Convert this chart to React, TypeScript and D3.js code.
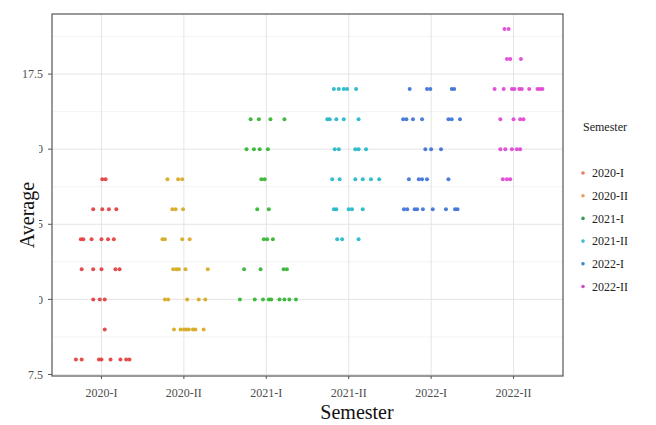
import * as d3 from 'd3';

// Semester categories and colours
const SEMESTERS = ['2020-I', '2020-II', '2021-I', '2021-II', '2022-I', '2022-II'];
const POINT_COLORS = ['#e2393b', '#d6a71e', '#2eb22e', '#1eb6c6', '#3a6fd6', '#e040d4'];
const LEGEND_COLORS = ['#ee7a66', '#e8a060', '#3a9a52', '#3cbcd0', '#3a8ad2', '#d24ac8'];

// Each row: [average, horizontal jitter offsets (in category widths)]
type Row = [number, number[]];

const S2020_I: Row[] = [
  [14, [0.01, 0.05]],
  [13, [-0.10, 0.01, 0.09, 0.18]],
  [12, [-0.25, -0.22, -0.12, 0.0, 0.08, 0.15]],
  [11, [-0.24, -0.10, 0.0, 0.17, 0.22]],
  [10, [-0.10, -0.02, 0.04]],
  [9, [0.04]],
  [8, [-0.31, -0.24, -0.03, 0.0, 0.11, 0.23, 0.30, 0.34]],
];
const S2020_II: Row[] = [
  [14, [-0.20, -0.07, -0.02]],
  [13, [-0.14, -0.10, -0.01]],
  [12, [-0.26, -0.23, -0.02, 0.07]],
  [11, [-0.13, -0.09, -0.06, 0.02, 0.29]],
  [10, [-0.23, -0.19, 0.04, 0.18, 0.26]],
  [9, [-0.12, -0.04, 0.0, 0.03, 0.06, 0.11, 0.14, 0.24]],
];
const S2021_I: Row[] = [
  [16, [-0.19, -0.09, 0.05, 0.22]],
  [15, [-0.24, -0.15, -0.08, 0.02]],
  [14, [-0.06, -0.02]],
  [13, [-0.11, 0.03]],
  [12, [-0.03, 0.01, 0.08]],
  [11, [-0.27, -0.07, 0.21, 0.25]],
  [10, [-0.32, -0.14, -0.04, 0.03, 0.06, 0.16, 0.22, 0.28, 0.36]],
];
const S2021_II: Row[] = [
  [17, [-0.18, -0.12, -0.06, -0.02, 0.09]],
  [16, [-0.26, -0.23, -0.15, -0.06, 0.12]],
  [15, [-0.17, -0.12, 0.08, 0.12, 0.21]],
  [14, [-0.20, -0.11, 0.08, 0.17, 0.27, 0.37]],
  [13, [-0.18, -0.15, 0.0, 0.04, 0.17]],
  [12, [-0.14, -0.08, 0.12]],
];
const S2022_I: Row[] = [
  [17, [-0.26, -0.05, -0.01, 0.25, 0.28]],
  [16, [-0.34, -0.30, -0.22, -0.11, 0.21, 0.25, 0.35]],
  [15, [-0.07, 0.0, 0.12]],
  [14, [-0.27, -0.15, -0.11, -0.05, 0.21]],
  [13, [-0.33, -0.29, -0.20, -0.17, -0.10, 0.02, 0.18, 0.29, 0.32]],
];
const S2022_II: Row[] = [
  [19, [-0.11, -0.06]],
  [18, [-0.08, -0.04, 0.09]],
  [17, [-0.23, -0.12, -0.02, 0.01, 0.07, 0.10, 0.19, 0.29, 0.32, 0.35]],
  [16, [-0.16, 0.0, 0.08, 0.12]],
  [15, [-0.16, -0.10, -0.02, 0.04, 0.08]],
  [14, [-0.13, -0.08, -0.04]],
];
const SERIES = [S2020_I, S2020_II, S2021_I, S2021_II, S2022_I, S2022_II];

const Y_TICKS = [7.5, 10, 12.5, 15, 17.5];
const Y_MINOR = [8.75, 11.25, 13.75, 16.25, 18.75];

const W = 656;
const H = 425;
const panel = { left: 52, right: 563, top: 14, bottom: 376 };
const serif = '"Liberation Serif", "DejaVu Serif", serif';

export default function App() {
  // discrete x with ggplot-like 0.6 expansion on each side
  const x = d3.scaleLinear()
    .domain([-0.6, SEMESTERS.length - 1 + 0.6])
    .range([panel.left, panel.right]);
  const y = d3.scaleLinear()
    .domain([7.45, 19.5])
    .range([panel.bottom, panel.top]);

  const points = SERIES.flatMap((rows, i) =>
    rows.flatMap(([v, jit]) => jit.map((j) => ({ i, v, j })))
  );

  const legendTop = 127;
  const legendStep = 22.7;

  return (
    <svg
      width={W}
      height={H}
      style={{ position: 'absolute', left: 0, top: 0, background: '#fff' }}
    >
      {/* panel background + grid */}
      <rect x={panel.left} y={panel.top} width={panel.right - panel.left}
        height={panel.bottom - panel.top} fill="#fff" />
      {Y_MINOR.map((t) => (
        <line key={'mn' + t} x1={panel.left} x2={panel.right} y1={y(t)} y2={y(t)}
          stroke="#f0f0f0" strokeWidth={0.8} />
      ))}
      {Y_TICKS.map((t) => (
        <line key={'mj' + t} x1={panel.left} x2={panel.right} y1={y(t)} y2={y(t)}
          stroke="#e4e4e4" strokeWidth={1} />
      ))}
      {SEMESTERS.map((s, i) => (
        <line key={'vx' + s} x1={x(i)} x2={x(i)} y1={panel.top} y2={panel.bottom}
          stroke="#e4e4e4" strokeWidth={1} />
      ))}

      {/* points */}
      {points.map((p, k) => (
        <circle key={k} cx={x(p.i + p.j)} cy={y(p.v)} r={2}
          fill={POINT_COLORS[p.i]} fillOpacity={0.9} />
      ))}

      {/* panel border */}
      <rect x={panel.left} y={panel.top} width={panel.right - panel.left}
        height={panel.bottom - panel.top} fill="none" stroke="#555" strokeWidth={1.2} />

      {/* y axis */}
      {Y_TICKS.map((t) => (
        <g key={'yt' + t}>
          <line x1={panel.left - 4} x2={panel.left} y1={y(t)} y2={y(t)} stroke="#555" />
          <text x={panel.left - 9} y={y(t)} dy="0.35em" textAnchor="end"
            fontFamily={serif} fontSize={12} fill="#4d4d4d">
            {t.toFixed(1)}
          </text>
        </g>
      ))}

      {/* x axis */}
      {SEMESTERS.map((s, i) => (
        <g key={'xt' + s}>
          <line x1={x(i)} x2={x(i)} y1={panel.bottom} y2={panel.bottom + 3} stroke="#555" />
          <text x={x(i)} y={panel.bottom + 21} textAnchor="middle"
            fontFamily={serif} fontSize={12} fill="#4d4d4d">
            {s}
          </text>
        </g>
      ))}

      {/* axis titles (the y title box hides most of the tick labels) */}
      <rect x={0} y={140} width={39} height={168} fill="#fff" />
      <text transform={`translate(34,${(panel.top + panel.bottom) / 2 + 20}) rotate(-90)`}
        textAnchor="middle" fontFamily={serif} fontSize={20} fill="#111">
        Average
      </text>
      <text x={357} y={419} textAnchor="middle"
        fontFamily={serif} fontSize={20} fill="#111">
        Semester
      </text>

      {/* legend */}
      <text x={583} y={legendTop + 4} fontFamily={serif} fontSize={12} fill="#222">
        Semester
      </text>
      {SEMESTERS.map((s, i) => {
        const cy = legendTop + 46 + i * legendStep;
        return (
          <g key={'lg' + s}>
            <circle cx={583} cy={cy} r={1.8} fill={LEGEND_COLORS[i]} />
            <text x={592} y={cy} dy="0.35em" fontFamily={serif} fontSize={12} fill="#222">
              {s}
            </text>
          </g>
        );
      })}
    </svg>
  );
}
